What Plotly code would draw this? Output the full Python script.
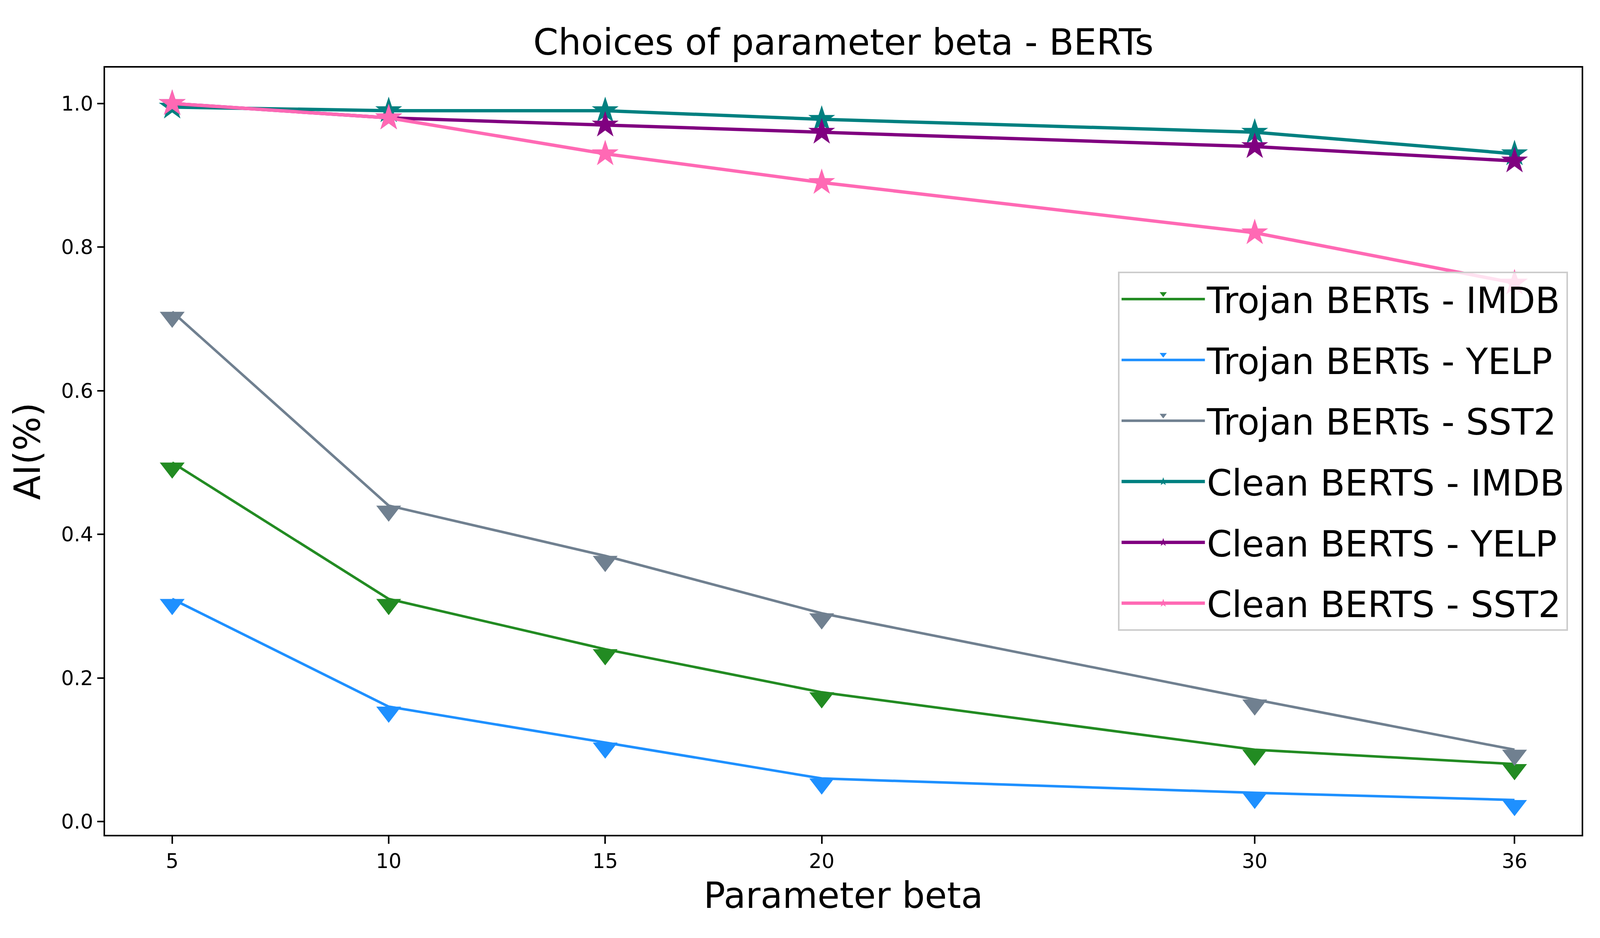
import plotly.graph_objects as go

# 参数 beta 的取值
betas = [5, 10, 15, 20, 30, 36]

trojan_imdb = [0.50, 0.31, 0.24, 0.18, 0.10, 0.08]
trojan_yelp = [0.31, 0.16, 0.11, 0.06, 0.04, 0.03]
trojan_sst2 = [0.71, 0.44, 0.37, 0.29, 0.17, 0.10]
clean_imdb = [0.995, 0.99, 0.99, 0.978, 0.96, 0.93]
clean_yelp = [1.00, 0.98, 0.97, 0.96, 0.94, 0.92]
clean_sst2 = [1.00, 0.98, 0.93, 0.89, 0.82, 0.75]

y_ticks = [0.0, 0.2, 0.4, 0.6, 0.8, 1.0]

series = [
    ('Trojan BERTs - IMDB', trojan_imdb, '#228B22', 'triangle-down'),
    ('Trojan BERTs - YELP', trojan_yelp, '#1E90FF', 'triangle-down'),
    ('Trojan BERTs - SST2', trojan_sst2, '#708090', 'triangle-down'),
    ('Clean BERTS - IMDB', clean_imdb, '#008080', 'star'),
    ('Clean BERTS - YELP', clean_yelp, '#800080', 'star'),
    ('Clean BERTS - SST2', clean_sst2, '#FF69B4', 'star'),
]

FONT = 'DejaVu Sans'
# 浏览器可见区域是 4096x2400：横向缩小，纵向不变
W, H = 4096, 2400
SX = W / 4800
SF = 0.92  # 字号和标记大小的折中比例


def f(v):
    return v * SF


fig = go.Figure()
for name, values, color, symbol in series:
    if symbol == 'triangle-down':
        # 三角形的底边落在数据点上
        marker = dict(symbol=symbol, size=f(60), color=color, standoff=f(15))
        width = 6.5
    else:
        marker = dict(symbol=symbol, size=f(56), color=color)
        width = 8.5
    fig.add_trace(go.Scatter(
        x=betas, y=values, name=name, mode='lines+markers',
        legendgroup=name,
        line=dict(color=color, width=width, backoff=0),
        marker=marker,
    ))

axis_style = dict(
    showline=True, mirror=True, linecolor='black', linewidth=4,
    ticks='outside', tickwidth=4, tickcolor='black',
    showgrid=False, zeroline=False,
    tickfont=dict(family=FONT, size=f(56), color='black'),
)

fig.update_layout(
    width=W,
    height=H,
    plot_bgcolor='white',
    paper_bgcolor='white',
    margin=dict(l=306 * SX, r=65 * SX, t=165, b=272, pad=0),
    title=dict(text='Choices of parameter beta - BERTs', x=0.5, xanchor='center',
               xref='paper', yref='container', y=1 - 100 / H, yanchor='middle',
               font=dict(family=FONT, size=f(100), color='black')),
    xaxis=dict(range=[3.45, 37.55], tickvals=betas, automargin=False, ticklen=19,
               title=dict(text='Parameter beta', standoff=28,
                          font=dict(family=FONT, size=f(100), color='black')),
               **axis_style),
    yaxis=dict(range=[-0.0185, 1.050], tickvals=y_ticks, tickformat='.1f',
               automargin=False, ticklen=19 * SX,
               title=dict(text='AI(%)', standoff=28 * SX,
                          font=dict(family=FONT, size=f(100), color='black')),
               **axis_style),
    legend=dict(x=0.9908, xanchor='right', y=0.5, yanchor='middle',
                bgcolor='rgba(255,255,255,0.8)', bordercolor='#cccccc',
                borderwidth=4, itemwidth=250 * SX, tracegroupgap=33,
                font=dict(family=FONT, size=f(100), color='black')),
)

fig.write_html('out.html')
